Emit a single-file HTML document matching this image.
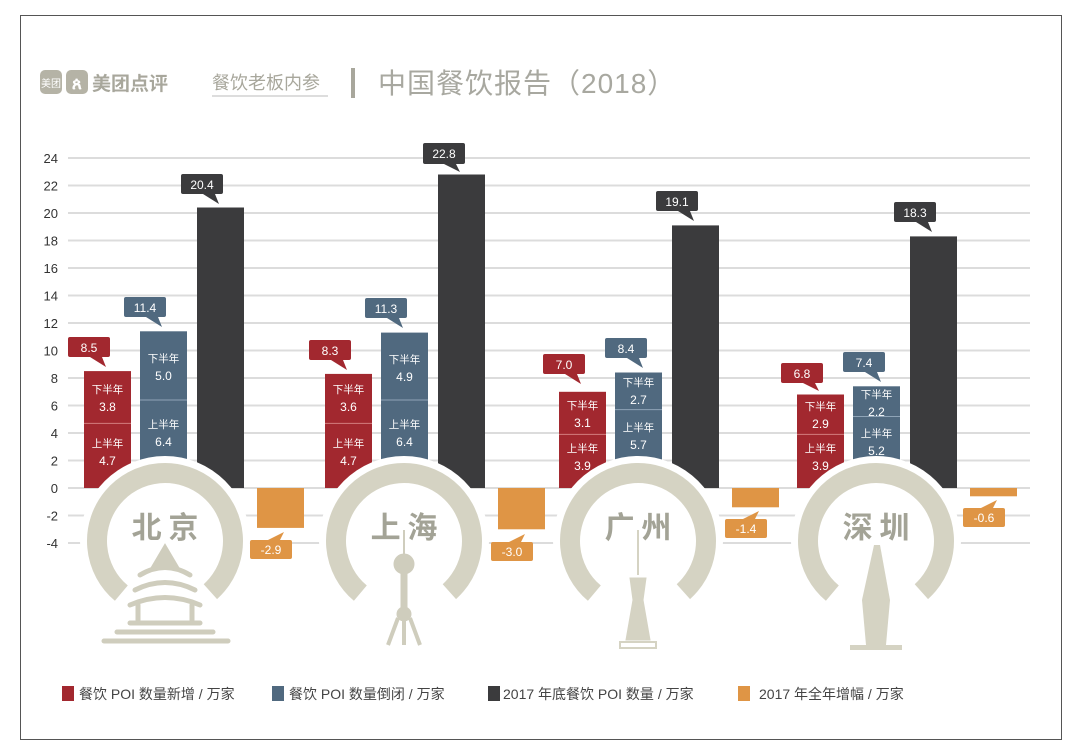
<!DOCTYPE html>
<html><head><meta charset="utf-8"><style>
body{margin:0;background:#fff;}
svg{display:block;}
text{font-family:"Liberation Sans","Noto Sans CJK SC",sans-serif;}
.n{font-family:"Liberation Sans Narrow","Liberation Sans","Noto Sans CJK SC",sans-serif;font-size:12px;fill:#fff;text-anchor:middle;}
.c{font-size:10.5px;fill:#fff;text-anchor:middle;}
.ax{font-family:"Liberation Sans Narrow","Liberation Sans",sans-serif;font-size:13px;fill:#333;text-anchor:end;}
.lg{font-size:14px;fill:#444;}
.city{font-size:30px;font-weight:bold;fill:#a3a396;text-anchor:middle;font-family:"Noto Sans CJK SC",sans-serif;}
</style></head><body>
<svg width="1080" height="755" viewBox="0 0 1080 755" xmlns="http://www.w3.org/2000/svg">
<rect x="0" y="0" width="1080" height="755" fill="#fff"/>
<rect x="20.5" y="15.5" width="1041" height="724" fill="none" stroke="#555" stroke-width="1"/>
<!-- header -->
<rect x="40" y="70" width="22" height="24" rx="5" fill="#b5b3a6"/>
<text x="51" y="87" font-size="10" fill="#fff" text-anchor="middle">美团</text>
<rect x="66" y="70" width="22" height="24" rx="5" fill="#b5b3a6"/>
<text x="77" y="89" font-size="17" fill="#fff" text-anchor="middle" font-weight="bold">ጰ</text>
<text x="92" y="90" font-size="19" font-weight="bold" fill="#a8a79c">美团点评</text>
<text x="212" y="89" font-size="18" fill="#a8a79c">餐饮老板内参</text>
<line x1="212" y1="96" x2="328" y2="96" stroke="#bbb" stroke-width="1"/>
<rect x="351" y="68" width="4" height="30" fill="#a8a79c"/>
<text x="378" y="93" font-size="28" fill="#a8a8a0" letter-spacing="1">中国餐饮报告（2018）</text>
<!-- grid -->
<g stroke="#dcdcdc" stroke-width="2">
<line x1="68" y1="158" x2="1030" y2="158"/><line x1="68" y1="185.5" x2="1030" y2="185.5"/>
<line x1="68" y1="213" x2="1030" y2="213"/><line x1="68" y1="240.5" x2="1030" y2="240.5"/>
<line x1="68" y1="268" x2="1030" y2="268"/><line x1="68" y1="295.5" x2="1030" y2="295.5"/>
<line x1="68" y1="323" x2="1030" y2="323"/><line x1="68" y1="350.5" x2="1030" y2="350.5"/>
<line x1="68" y1="378" x2="1030" y2="378"/><line x1="68" y1="405.5" x2="1030" y2="405.5"/>
<line x1="68" y1="433" x2="1030" y2="433"/><line x1="68" y1="460.5" x2="1030" y2="460.5"/>
<line x1="68" y1="488" x2="1030" y2="488"/><line x1="68" y1="515.5" x2="1030" y2="515.5"/>
<line x1="68" y1="543" x2="1030" y2="543"/>
</g>
<g class="ax">
<text x="58" y="163" class="ax">24</text><text x="58" y="190.5" class="ax">22</text>
<text x="58" y="218" class="ax">20</text><text x="58" y="245.5" class="ax">18</text>
<text x="58" y="273" class="ax">16</text><text x="58" y="300.5" class="ax">14</text>
<text x="58" y="328" class="ax">12</text><text x="58" y="355.5" class="ax">10</text>
<text x="58" y="383" class="ax">8</text><text x="58" y="410.5" class="ax">6</text>
<text x="58" y="438" class="ax">4</text><text x="58" y="465.5" class="ax">2</text>
<text x="58" y="493" class="ax">0</text><text x="58" y="520.5" class="ax">-2</text>
<text x="58" y="548" class="ax">-4</text>
</g>
<!-- bars -->
<g>
<!-- Beijing -->
<rect x="84" y="371.1" width="47" height="116.9" fill="#a2282f"/>
<rect x="140" y="331.3" width="47" height="156.7" fill="#50697f"/>
<rect x="197" y="207.5" width="47" height="280.5" fill="#3b3b3d"/>
<rect x="257" y="488" width="47" height="39.9" fill="#df9545"/>
<!-- Shanghai -->
<rect x="325" y="373.9" width="47" height="114.1" fill="#a2282f"/>
<rect x="381" y="332.6" width="47" height="155.4" fill="#50697f"/>
<rect x="438" y="174.5" width="47" height="313.5" fill="#3b3b3d"/>
<rect x="498" y="488" width="47" height="41.3" fill="#df9545"/>
<!-- Guangzhou -->
<rect x="559" y="391.8" width="47" height="96.2" fill="#a2282f"/>
<rect x="615" y="372.5" width="47" height="115.5" fill="#50697f"/>
<rect x="672" y="225.4" width="47" height="262.6" fill="#3b3b3d"/>
<rect x="732" y="488" width="47" height="19.3" fill="#df9545"/>
<!-- Shenzhen -->
<rect x="797" y="394.5" width="47" height="93.5" fill="#a2282f"/>
<rect x="853" y="386.3" width="47" height="101.7" fill="#50697f"/>
<rect x="910" y="236.4" width="47" height="251.6" fill="#3b3b3d"/>
<rect x="970" y="488" width="47" height="8.3" fill="#df9545"/>
</g>
<!-- split lines -->
<g stroke="#e8a0a0" stroke-width="1" opacity="0.7">
<line x1="84" y1="423.4" x2="131" y2="423.4"/><line x1="325" y1="423.4" x2="372" y2="423.4"/>
<line x1="559" y1="434.4" x2="606" y2="434.4"/><line x1="797" y1="434.4" x2="844" y2="434.4"/>
</g>
<g stroke="#9fb3c6" stroke-width="1" opacity="0.8">
<line x1="140" y1="400" x2="187" y2="400"/><line x1="381" y1="400" x2="428" y2="400"/>
<line x1="615" y1="409.6" x2="662" y2="409.6"/><line x1="853" y1="416.5" x2="900" y2="416.5"/>
</g>
<!-- inner labels -->
<g>
<text class="c" x="107.5" y="393">下半年</text><text class="n" x="107.5" y="411">3.8</text>
<text class="c" x="107.5" y="447">上半年</text><text class="n" x="107.5" y="465">4.7</text>
<text class="c" x="163.5" y="362">下半年</text><text class="n" x="163.5" y="380">5.0</text>
<text class="c" x="163.5" y="428">上半年</text><text class="n" x="163.5" y="446">6.4</text>
<text class="c" x="348.5" y="393">下半年</text><text class="n" x="348.5" y="411">3.6</text>
<text class="c" x="348.5" y="447">上半年</text><text class="n" x="348.5" y="465">4.7</text>
<text class="c" x="404.5" y="363">下半年</text><text class="n" x="404.5" y="381">4.9</text>
<text class="c" x="404.5" y="428">上半年</text><text class="n" x="404.5" y="446">6.4</text>
<text class="c" x="582.5" y="409">下半年</text><text class="n" x="582.5" y="427">3.1</text>
<text class="c" x="582.5" y="452">上半年</text><text class="n" x="582.5" y="470">3.9</text>
<text class="c" x="638.5" y="386">下半年</text><text class="n" x="638.5" y="404">2.7</text>
<text class="c" x="638.5" y="431">上半年</text><text class="n" x="638.5" y="449">5.7</text>
<text class="c" x="820.5" y="410">下半年</text><text class="n" x="820.5" y="428">2.9</text>
<text class="c" x="820.5" y="452">上半年</text><text class="n" x="820.5" y="470">3.9</text>
<text class="c" x="876.5" y="398">下半年</text><text class="n" x="876.5" y="416">2.2</text>
<text class="c" x="876.5" y="437">上半年</text><text class="n" x="876.5" y="455">5.2</text>
</g>
<!-- rings -->
<g>
<circle cx="165" cy="541" r="85" fill="#fff"/>
<circle cx="404" cy="541" r="85" fill="#fff"/>
<circle cx="638" cy="541" r="85" fill="#fff"/>
<circle cx="876" cy="541" r="85" fill="#fff"/>
<g fill="none" stroke="#d5d3c3" stroke-width="20" stroke-dasharray="330 97">
<circle cx="165" cy="541" r="68" transform="rotate(130 165 541)"/>
<circle cx="404" cy="541" r="68" transform="rotate(130 404 541)"/>
<circle cx="638" cy="541" r="68" transform="rotate(130 638 541)"/>
<circle cx="876" cy="541" r="68" transform="rotate(130 876 541)"/>
</g>
<text class="city" x="165" y="538">北 京</text>
<text class="city" x="404" y="538">上 海</text>
<text class="city" x="638" y="538">广 州</text>
<text class="city" x="876" y="538">深 圳</text>
<!-- Beijing temple -->
<g fill="none" stroke="#cfcdbd" stroke-width="5" stroke-linecap="round">
<path d="M165 548 L155 565 L175 565 Z" fill="#cfcdbd"/>
<path d="M140 575 Q165 560 190 575"/>
<path d="M135 590 Q165 575 195 590"/>
<path d="M130 605 Q165 590 200 605"/>
<line x1="138" y1="605" x2="138" y2="620"/><line x1="192" y1="605" x2="192" y2="620"/>
<line x1="130" y1="623" x2="200" y2="623"/>
<line x1="117" y1="632" x2="213" y2="632"/>
<line x1="104" y1="641" x2="228" y2="641"/>
</g>
<!-- Shanghai tower -->
<g fill="#cfcdbd" stroke="#cfcdbd">
<line x1="404" y1="530" x2="404" y2="555" stroke-width="2"/>
<circle cx="404" cy="564" r="10"/>
<rect x="401" y="570" width="6" height="40"/>
<circle cx="404" cy="614" r="7"/>
<path d="M398 618 L388 645 M410 618 L420 645 M404 620 L404 645" stroke-width="4" fill="none"/>
</g>
<!-- Guangzhou tower -->
<g fill="#d5d3c3" stroke="#d5d3c3">
<line x1="638" y1="530" x2="638" y2="575" stroke-width="2"/>
<path d="M630 578 L646 578 L643 600 L650 640 L626 640 L633 600 Z"/>
<rect x="620" y="642" width="36" height="6" fill="none" stroke-width="2"/>
</g>
<!-- Shenzhen tower -->
<g fill="#d5d3c3">
<path d="M874 545 L880 545 L890 600 L886 645 L866 645 L862 600 Z"/>
<rect x="850" y="645" width="52" height="5"/>
</g>
</g>
<!-- callouts -->
<g class="n">
<!-- Beijing -->
<rect x="68" y="337" width="42" height="20" rx="2" fill="#a2282f"/><path d="M90 357 L102 357 L106 367 Z" fill="#a2282f"/><text class="n" x="89" y="352">8.5</text>
<rect x="124" y="297" width="42" height="20" rx="2" fill="#50697f"/><path d="M146 317 L158 317 L162 327 Z" fill="#50697f"/><text class="n" x="145" y="312">11.4</text>
<rect x="181" y="174" width="42" height="20" rx="2" fill="#3b3b3d"/><path d="M203 194 L215 194 L219 204 Z" fill="#3b3b3d"/><text class="n" x="202" y="189">20.4</text>
<rect x="250" y="540" width="42" height="19" rx="2" fill="#df9545"/><path d="M268 540 L280 540 L284 532 Z" fill="#df9545"/><text class="n" x="271" y="554">-2.9</text>
<!-- Shanghai -->
<rect x="309" y="340" width="42" height="20" rx="2" fill="#a2282f"/><path d="M331 360 L343 360 L347 370 Z" fill="#a2282f"/><text class="n" x="330" y="355">8.3</text>
<rect x="365" y="298" width="42" height="20" rx="2" fill="#50697f"/><path d="M387 318 L399 318 L403 328 Z" fill="#50697f"/><text class="n" x="386" y="313">11.3</text>
<rect x="423" y="143" width="42" height="21" rx="2" fill="#3b3b3d"/><path d="M444 164 L456 164 L460 172 Z" fill="#3b3b3d"/><text class="n" x="444" y="158">22.8</text>
<rect x="491" y="542" width="42" height="19" rx="2" fill="#df9545"/><path d="M509 542 L521 542 L525 534 Z" fill="#df9545"/><text class="n" x="512" y="556">-3.0</text>
<!-- Guangzhou -->
<rect x="543" y="354" width="42" height="20" rx="2" fill="#a2282f"/><path d="M565 374 L577 374 L581 384 Z" fill="#a2282f"/><text class="n" x="564" y="369">7.0</text>
<rect x="605" y="338" width="42" height="20" rx="2" fill="#50697f"/><path d="M627 358 L639 358 L643 368 Z" fill="#50697f"/><text class="n" x="626" y="353">8.4</text>
<rect x="656" y="191" width="42" height="20" rx="2" fill="#3b3b3d"/><path d="M678 211 L690 211 L694 221 Z" fill="#3b3b3d"/><text class="n" x="677" y="206">19.1</text>
<rect x="725" y="519" width="42" height="19" rx="2" fill="#df9545"/><path d="M743 519 L755 519 L759 511 Z" fill="#df9545"/><text class="n" x="746" y="533">-1.4</text>
<!-- Shenzhen -->
<rect x="781" y="363" width="42" height="20" rx="2" fill="#a2282f"/><path d="M803 383 L815 383 L819 391 Z" fill="#a2282f"/><text class="n" x="802" y="378">6.8</text>
<rect x="843" y="352" width="42" height="20" rx="2" fill="#50697f"/><path d="M865 372 L877 372 L881 382 Z" fill="#50697f"/><text class="n" x="864" y="367">7.4</text>
<rect x="894" y="202" width="42" height="20" rx="2" fill="#3b3b3d"/><path d="M916 222 L928 222 L932 232 Z" fill="#3b3b3d"/><text class="n" x="915" y="217">18.3</text>
<rect x="963" y="508" width="42" height="19" rx="2" fill="#df9545"/><path d="M981 508 L993 508 L997 500 Z" fill="#df9545"/><text class="n" x="984" y="522">-0.6</text>
</g>
<!-- legend -->
<rect x="62" y="686" width="12" height="15" fill="#a2282f"/>
<text class="lg" x="79" y="699">餐饮 POI 数量新增 / 万家</text>
<rect x="272" y="686" width="12" height="15" fill="#50697f"/>
<text class="lg" x="289" y="699">餐饮 POI 数量倒闭 / 万家</text>
<rect x="488" y="686" width="12" height="15" fill="#3b3b3d"/>
<text class="lg" x="503" y="699">2017 年底餐饮 POI 数量 / 万家</text>
<rect x="738" y="686" width="12" height="15" fill="#df9545"/>
<text class="lg" x="759" y="699">2017 年全年增幅 / 万家</text>
</svg>
</body></html>
